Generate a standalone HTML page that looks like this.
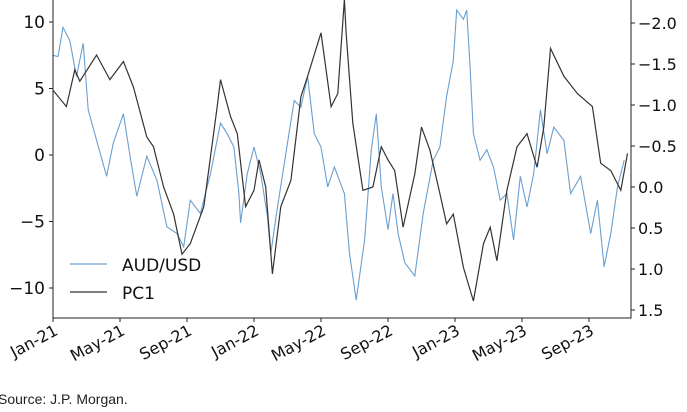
<!DOCTYPE html>
<html><head><meta charset="utf-8"><style>
body{margin:0;background:#fff;width:687px;height:408px;overflow:hidden;font-family:"DejaVu Sans","Liberation Sans",sans-serif}
</style></head><body>
<svg width="687" height="408" xmlns="http://www.w3.org/2000/svg">
<defs><clipPath id="pc"><rect x="53" y="0" width="578" height="318"/></clipPath></defs>
<g id="plot" clip-path="url(#pc)"></g>
<g id="axes"></g>
<text x="-2" y="404" font-family="Liberation Sans, sans-serif" font-size="14" fill="#222">Source: J.P. Morgan.</text>
</svg>
<script>
const audT=[0,0.3,0.6,1,1.4,1.8,2.1,2.6,3.2,3.6,4.2,4.6,5,5.6,6.2,6.8,7.4,7.8,8.2,8.8,9.4,10,10.4,10.8,11.1,11.2,11.6,12,12.4,12.8,13,13.4,14,14.4,14.8,15.2,15.6,16,16.4,16.8,17.4,17.7,18.1,18.6,19,19.3,19.6,20,20.3,20.6,21,21.6,22.1,22.7,23.1,23.5,23.9,24.1,24.5,24.7,24.9,25.1,25.5,25.9,26.3,26.7,27.1,27.5,27.9,28.3,28.7,29.1,29.5,29.9,30.5,30.9,31.5,32.1,32.5,32.9,33.3,33.7,34.1];
const audV=[7.5,7.4,9.6,8.6,5.9,8.4,3.4,1.1,-1.6,0.9,3.1,-0.1,-3.1,-0.1,-1.9,-5.4,-5.9,-6.9,-3.4,-4.4,-1.4,2.4,1.6,0.6,-2.9,-5.1,-1.4,0.6,-1.4,-4.6,-7.4,-3.9,0.9,4.1,3.6,5.9,1.6,0.6,-2.4,-0.9,-2.9,-7.4,-10.9,-6.4,0.4,3.1,-2.4,-5.6,-2.9,-5.9,-8.1,-9.1,-4.4,-0.4,0.6,4.4,7.1,10.9,10.2,10.9,6.6,1.6,-0.4,0.4,-0.9,-3.4,-2.9,-6.4,-1.6,-3.9,-1.4,3.4,0.1,2.1,1.1,-2.9,-1.6,-5.9,-3.4,-8.4,-5.9,-2.4,-0.4];
const pcT=[0,0.8,1.3,1.6,2.6,3.4,4.2,4.8,5.6,6,6.6,7.2,7.7,8.2,9,9.8,10,10.6,11,11.5,12,12.3,12.7,13.1,13.6,14.2,14.8,15.2,16,16.6,17,17.4,17.5,17.9,18.5,19.1,19.6,20,20.4,20.9,21.6,22,22.5,23.1,23.5,23.9,24.5,25.1,25.7,26.1,26.5,27.1,27.7,28.3,28.9,29.3,29.7,30.5,31.3,32.2,32.7,33.3,33.9,34.3];
const pcV=[-1.18,-0.98,-1.43,-1.29,-1.61,-1.31,-1.53,-1.22,-0.61,-0.49,0,0.33,0.82,0.69,0.24,-0.98,-1.31,-0.86,-0.65,0.24,0.04,-0.33,0,1.06,0.24,-0.08,-1.1,-1.35,-1.88,-0.98,-1.14,-2.29,-1.88,-0.78,0.04,0,-0.49,-0.33,-0.2,0.49,-0.16,-0.73,-0.45,0.08,0.45,0.33,0.98,1.39,0.69,0.49,0.9,0.04,-0.49,-0.65,-0.24,-0.73,-1.69,-1.35,-1.14,-0.98,-0.29,-0.2,0.04,-0.41];
const leftTicks=[10,5,0,-5,-10];
const rightTicks=[-2.0,-1.5,-1.0,-0.5,0.0,0.5,1.0,1.5];
const xLabels=["Jan-21","May-21","Sep-21","Jan-22","May-22","Sep-22","Jan-23","May-23","Sep-23"];
const X=t=>53+t*16.75, YL=v=>155-v*13.3, YR=v=>187+v*82;
const NS="http://www.w3.org/2000/svg";
function mk(tag,attrs,parent,txt){const e=document.createElementNS(NS,tag);for(const k in attrs)e.setAttribute(k,attrs[k]);if(txt!==undefined)e.textContent=txt;parent.appendChild(e);return e;}
const plot=document.getElementById('plot'),axes=document.getElementById('axes');
const la=mk('path',{d:audT.map((t,i)=>(i?'L':'M')+X(t).toFixed(1)+','+YL(audV[i]).toFixed(1)).join(''),fill:'none',stroke:'#6a9fd0','stroke-width':1.1},plot);


const lp=mk('path',{d:pcT.map((t,i)=>(i?'L':'M')+X(t).toFixed(1)+','+YR(pcV[i]).toFixed(1)).join(''),fill:'none',stroke:'#333','stroke-width':1.2},plot);


mk('path',{d:'M53,0V318H631V0',fill:'none',stroke:'#222','stroke-width':1},axes);
leftTicks.forEach(v=>{const y=YL(v);mk('line',{x1:49,x2:53,y1:y,y2:y,stroke:'#222'},axes);
 const t=mk('text',{x:45,y:y+6,'text-anchor':'end','font-size':17,fill:'#111'},axes,v<0?'\u2212'+(-v):String(v));
 
 });
rightTicks.forEach(v=>{const y=YR(v);mk('line',{x1:631,x2:635,y1:y,y2:y,stroke:'#222'},axes);
 const t=mk('text',{x:638,y:y+6,'font-size':16,fill:'#111'},axes,(v<0?'\u2212':'')+Math.abs(v).toFixed(1));
 
 });
xLabels.forEach((s,i)=>{const x=X(i*4);mk('line',{x1:x,x2:x,y1:318,y2:322,stroke:'#222'},axes);
 const t=mk('text',{x:x+6,y:334,'text-anchor':'end','font-size':16,fill:'#111',transform:`rotate(-28 ${x+6} 334)`},axes,s);
 
 });
const lg=mk('g',{},axes);


mk('line',{x1:70,x2:107,y1:264,y2:264,stroke:'#6a9fd0','stroke-width':1.2},lg);
mk('text',{x:122,y:271,'font-size':17,fill:'#111'},lg,'AUD/USD');
mk('line',{x1:70,x2:107,y1:292,y2:292,stroke:'#333','stroke-width':1.2},lg);
mk('text',{x:122,y:299,'font-size':17,fill:'#111'},lg,'PC1');
</script>
</body></html>
